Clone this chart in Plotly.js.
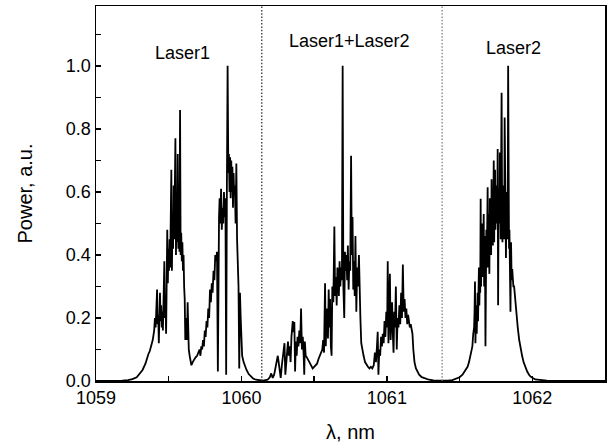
<!DOCTYPE html>
<html>
<head>
<meta charset="utf-8">
<script src="https://cdn.plot.ly/plotly-3.0.1.min.js"></script>
<style>html,body{margin:0;padding:0;background:#fff;}#chart{width:609px;height:446px;}</style>
</head>
<body>
<div id="chart"></div>
<script>
// Laser1 region (wavelength nm, normalised power)
const laser1Wl = [
1059.00,1059.10,1059.18,1059.22,1059.25,1059.28,1059.30,1059.32,1059.34,1059.35,
1059.36,1059.37,1059.38,1059.39,1059.40,1059.405,1059.41,1059.415,1059.42,1059.424,
1059.428,1059.432,1059.436,1059.44,1059.444,1059.448,1059.452,1059.456,1059.46,1059.465,
1059.47,1059.474,1059.478,1059.482,1059.486,1059.49,1059.494,1059.498,1059.502,1059.506,
1059.51,1059.514,1059.518,1059.522,1059.526,1059.53,1059.534,1059.538,1059.542,1059.546,
1059.55,1059.554,1059.558,1059.562,1059.566,1059.57,1059.574,1059.578,1059.582,1059.586,
1059.59,1059.594,1059.598,1059.602,1059.606,1059.61,1059.614,1059.618,1059.622,1059.626,
1059.63,1059.634,1059.638,1059.644,1059.65,1059.656,1059.665,1059.675,1059.685,1059.695,
1059.705,1059.712,1059.718,1059.724,1059.73,1059.736,1059.742,1059.748,1059.754,1059.76,
1059.766,1059.772,1059.778,1059.784,1059.79,1059.796,1059.802,1059.808,1059.814,1059.82,
1059.826,1059.832,1059.838,1059.842,1059.846,1059.85,1059.855,1059.86,1059.865,1059.87,
1059.875,1059.88,1059.885,1059.89,1059.895,1059.9,1059.905,1059.91,1059.914,1059.918,
1059.922,1059.926,1059.93,1059.934,1059.938,1059.942,1059.946,1059.95,1059.955,1059.96,
1059.965,1059.97,1059.975,1059.98,1059.985,1059.99,1059.995,1060.0,1060.005,1060.015,
1060.025,1060.035,1060.05,1060.065,1060.08,1060.1,1060.13];
const laser1Pw = [
0,0,0.001,0.003,0.006,0.012,0.022,0.035,0.055,0.075,
0.085,0.095,0.11,0.13,0.16,0.2,0.17,0.22,0.29,0.18,
0.21,0.12,0.22,0.28,0.19,0.24,0.17,0.22,0.16,0.3,
0.38,0.2,0.26,0.15,0.35,0.48,0.31,0.42,0.35,0.45,
0.36,0.58,0.67,0.35,0.52,0.42,0.62,0.45,0.55,0.77,
0.4,0.6,0.44,0.72,0.42,0.5,0.41,0.86,0.4,0.47,
0.38,0.44,0.35,0.4,0.3,0.26,0.13,0.2,0.15,0.13,
0.25,0.12,0.1,0.08,0.06,0.05,0.06,0.07,0.075,0.08,
0.09,0.1,0.08,0.11,0.1,0.13,0.11,0.16,0.14,0.19,
0.17,0.23,0.2,0.29,0.25,0.31,0.28,0.35,0.32,0.4,
0.38,0.41,0.03,0.45,0.52,0.58,0.5,0.61,0.48,0.55,
0.5,0.6,0.52,0.58,0.02,0.62,1.0,0.66,0.72,0.6,
0.71,0.58,0.7,0.6,0.68,0.55,0.66,0.59,0.62,0.5,
0.69,0.45,0.35,0.3,0.04,0.28,0.2,0.12,0.08,0.06,
0.045,0.035,0.022,0.014,0.008,0.004,0.001];

// Laser1+Laser2 region
const mixWl = [
1060.15,1060.18,1060.195,1060.205,1060.215,1060.225,1060.235,1060.245,1060.25,1060.256,
1060.262,1060.27,1060.278,1060.286,1060.296,1060.302,1060.308,1060.314,1060.32,1060.326,
1060.332,1060.338,1060.344,1060.353,1060.358,1060.364,1060.369,1060.374,1060.38,1060.386,
1060.392,1060.398,1060.404,1060.41,1060.416,1060.422,1060.428,1060.432,1060.436,1060.442,
1060.45,1060.46,1060.47,1060.48,1060.49,1060.5,1060.51,1060.52,1060.53,1060.54,
1060.55,1060.556,1060.562,1060.568,1060.575,1060.58,1060.585,1060.59,1060.595,1060.6,
1060.605,1060.61,1060.615,1060.62,1060.625,1060.632,1060.639,1060.644,1060.65,1060.655,
1060.66,1060.665,1060.67,1060.675,1060.68,1060.686,1060.691,1060.696,1060.701,1060.707,
1060.712,1060.717,1060.722,1060.727,1060.732,1060.737,1060.742,1060.748,1060.754,1060.759,
1060.764,1060.769,1060.774,1060.779,1060.784,1060.79,1060.796,1060.802,1060.808,1060.813,
1060.818,1060.824,1060.83,1060.84,1060.85,1060.86,1060.87,1060.88,1060.89,1060.9,
1060.91,1060.918,1060.925,1060.932,1060.937,1060.942,1060.948,1060.954,1060.96,1060.966,
1060.972,1060.978,1060.984,1060.99,1060.996,1061.002,1061.006,1061.011,1061.016,1061.021,
1061.026,1061.031,1061.036,1061.041,1061.046,1061.051,1061.056,1061.062,1061.068,1061.074,
1061.08,1061.086,1061.092,1061.098,1061.104,1061.11,1061.116,1061.122,1061.128,1061.134,
1061.14,1061.146,1061.152,1061.158,1061.164,1061.17,1061.176,1061.182,1061.19,1061.2,
1061.21,1061.222,1061.24,1061.26,1061.29,1061.32,1061.36];
const mixPw = [
0.001,0.004,0.012,0.024,0.01,0.02,0.045,0.07,0.08,0.06,
0.03,0.01,0.05,0.08,0.12,0.02,0.07,0.09,0.125,0.08,
0.11,0.06,0.14,0.19,0.155,0.187,0.03,0.125,0.08,0.14,
0.11,0.16,0.12,0.23,0.1,0.14,0.08,0.02,0.125,0.08,
0.075,0.065,0.06,0.045,0.04,0.045,0.05,0.055,0.07,0.08,
0.09,0.1,0.13,0.09,0.31,0.11,0.2,0.23,0.135,0.29,
0.17,0.26,0.11,0.08,0.3,0.25,0.49,0.27,0.33,0.24,
0.36,0.34,0.27,0.38,0.3,0.36,0.32,1.0,0.3,0.2,
0.41,0.35,0.4,0.32,0.43,0.29,0.38,0.35,0.715,0.4,
0.52,0.29,0.38,0.27,0.46,0.22,0.36,0.3,0.4,0.21,
0.2,0.12,0.1,0.08,0.06,0.05,0.045,0.04,0.045,0.04,
0.05,0.09,0.06,0.11,0.156,0.02,0.1,0.08,0.14,0.11,
0.15,0.12,0.19,0.14,0.22,0.17,0.38,0.12,0.2,0.34,
0.13,0.22,0.25,0.15,0.09,0.22,0.17,0.3,0.1,0.2,
0.17,0.24,0.18,0.28,0.2,0.37,0.22,0.26,0.2,0.23,
0.18,0.21,0.19,0.17,0.18,0.16,0.15,0.1,0.06,0.04,
0.03,0.02,0.012,0.008,0.004,0.002,0.001];

// Laser2 region
const laser2Wl = [
1061.38,1061.42,1061.45,1061.48,1061.5,1061.52,1061.54,1061.555,1061.565,1061.575,
1061.588,1061.594,1061.6,1061.603,1061.606,1061.609,1061.612,1061.615,1061.618,1061.621,
1061.624,1061.627,1061.63,1061.633,1061.636,1061.639,1061.642,1061.645,1061.648,1061.651,
1061.654,1061.657,1061.66,1061.663,1061.666,1061.669,1061.672,1061.675,1061.678,1061.681,
1061.684,1061.687,1061.69,1061.693,1061.696,1061.699,1061.702,1061.705,1061.708,1061.711,
1061.714,1061.717,1061.72,1061.723,1061.726,1061.729,1061.732,1061.735,1061.738,1061.741,
1061.744,1061.747,1061.75,1061.753,1061.756,1061.759,1061.762,1061.765,1061.768,1061.771,
1061.774,1061.777,1061.78,1061.783,1061.786,1061.789,1061.792,1061.795,1061.798,1061.801,
1061.804,1061.807,1061.81,1061.813,1061.816,1061.819,1061.822,1061.825,1061.828,1061.831,
1061.834,1061.837,1061.84,1061.843,1061.846,1061.85,1061.854,1061.858,1061.862,1061.866,
1061.87,1061.875,1061.88,1061.887,1061.894,1061.9,1061.91,1061.92,1061.93,1061.94,
1061.955,1061.965,1061.98,1061.99,1062.02,1062.06,1062.1,1062.2,1062.5];
const laser2Pw = [
0,0.001,0.003,0.007,0.012,0.02,0.035,0.045,0.06,0.08,
0.11,0.15,0.17,0.22,0.316,0.12,0.18,0.24,0.15,0.22,
0.28,0.19,0.26,0.36,0.24,0.33,0.28,0.578,0.3,0.42,
0.5,0.33,0.45,0.38,0.53,0.3,0.46,0.4,0.11,0.42,
0.48,0.36,0.5,0.615,0.36,0.53,0.42,0.34,0.58,0.44,
0.55,0.4,0.64,0.46,0.6,0.43,0.55,0.7,0.44,0.6,
0.67,0.48,0.62,0.5,0.6,0.53,0.736,0.24,0.55,0.61,
0.5,0.725,0.55,0.45,0.7,0.915,0.59,0.44,0.62,0.5,
0.58,0.45,0.836,0.56,0.6,0.39,0.55,0.6,0.45,0.5,
1.0,0.5,0.42,0.48,0.35,0.22,0.44,0.32,0.355,0.3,
0.3,0.3,0.27,0.25,0.2,0.17,0.13,0.1,0.08,0.06,
0.04,0.03,0.018,0.013,0.005,0.002,0.001,0.0005,0];

// Region dividers (nm) and labels
const dividerWl = [1060.14, 1061.38];
const dividerColors = ['#222222', '#777777'];
const regionLabels = ['Laser1', 'Laser1+Laser2', 'Laser2'];
const labelWl = [1059.595, 1060.742, 1061.868];
const labelPw = [1.040, 1.079, 1.057];

const font = 'Liberation Sans, Arial, Helvetica, sans-serif';

const trace = {
  x: laser1Wl.concat(mixWl, laser2Wl),
  y: laser1Pw.concat(mixPw, laser2Pw),
  type: 'scatter',
  mode: 'lines',
  line: {color: '#000000', width: 1.8},
  hoverinfo: 'skip'
};

const shapes = dividerWl.map((w, i) => ({
  type: 'line', xref: 'x', yref: 'paper', x0: w, x1: w, y0: 0, y1: 1,
  line: {color: dividerColors[i], width: 1.2, dash: '1.5px,1.8px'}
}));

const annotations = regionLabels.map((t, i) => ({
  text: t, x: labelWl[i], y: labelPw[i], xref: 'x', yref: 'y',
  showarrow: false, xanchor: 'center', yanchor: 'middle',
  font: {family: font, size: 18, color: '#000'}
}));

const layout = {
  width: 609, height: 446,
  margin: {l: 96, r: 4, t: 6, b: 65},
  paper_bgcolor: '#ffffff', plot_bgcolor: '#ffffff',
  showlegend: false,
  font: {family: font, size: 18, color: '#000'},
  xaxis: {
    range: [1059, 1062.5], tick0: 1059, dtick: 1,
    ticks: 'inside', ticklen: 5, tickwidth: 1.5, tickcolor: '#000',
    minor: {dtick: 0.5, ticks: 'inside', ticklen: 5, tickwidth: 1.5, tickcolor: '#000', showgrid: false},
    showline: true, mirror: true, linewidth: 1.5, linecolor: '#000',
    showgrid: false, zeroline: false,
    tickfont: {family: font, size: 18, color: '#000'},
    title: {text: 'λ, nm', font: {family: font, size: 20, color: '#000'}, standoff: 18}
  },
  yaxis: {
    range: [0, 1.19], tick0: 0, dtick: 0.2, tickformat: '.1f',
    ticks: 'inside', ticklen: 5, tickwidth: 1.5, tickcolor: '#000',
    minor: {dtick: 0.1, ticks: 'inside', ticklen: 5, tickwidth: 1.5, tickcolor: '#000', showgrid: false},
    showline: true, mirror: true, linewidth: 1.5, linecolor: '#000',
    showgrid: false, zeroline: false,
    tickfont: {family: font, size: 18, color: '#000'},
    title: {text: 'Power, a.u.', font: {family: font, size: 20, color: '#000'}, standoff: 28}
  },
  shapes: shapes,
  annotations: annotations
};

Plotly.newPlot('chart', [trace], layout, {staticPlot: true, displayModeBar: false});
</script>
</body>
</html>
